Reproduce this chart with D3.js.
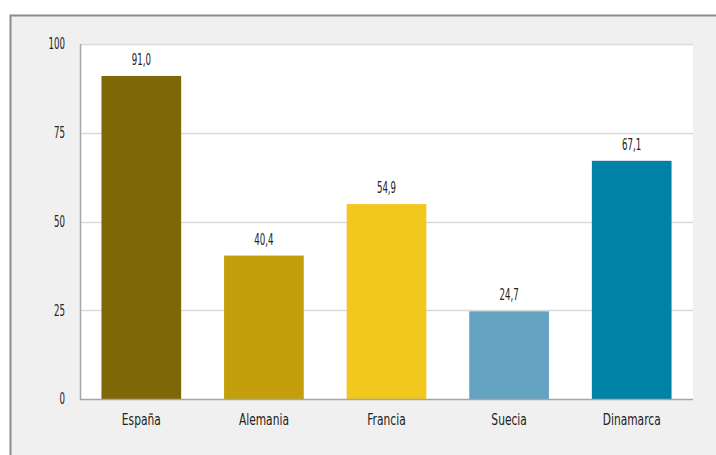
<!DOCTYPE html>
<html><head><meta charset="utf-8">
<script src="https://cdn.jsdelivr.net/npm/d3@7"></script>
<style>
html,body{margin:0;padding:0;background:#fff;}
text{font-family:"DejaVu Sans Condensed","DejaVu Sans",sans-serif;font-stretch:condensed;fill:#222;}
</style></head>
<body><svg id="c" width="716" height="455"></svg>
<script>
const categories = ["España","Alemania","Francia","Suecia","Dinamarca"];
const values = [91.0, 40.4, 54.9, 24.7, 67.1];
const valueLabels = ["91,0","40,4","54,9","24,7","67,1"];
const colors = ["#7f6606","#c29f0b","#f2c71e","#63a2c0","#0082a6"];
const yTicks = [0,25,50,75,100];

(function(){
const svg = d3.select("#c");
svg.append("rect").attr("x",10.5).attr("y",15.5).attr("width",720).attr("height",460)
  .attr("fill","#f0f0f0").attr("stroke","#8c8c8c").attr("stroke-width",2);

const pL=80, pR=693, pT=44, pB=399;
svg.append("rect").attr("x",pL).attr("y",pT).attr("width",pR-pL).attr("height",pB-pT).attr("fill","#fff");

const x = d3.scaleBand().domain(categories).range([pL,pR]).paddingInner(0.35).paddingOuter(0.175);
const y = d3.scaleLinear().domain([0,100]).range([pB,pT]);

svg.append("g").selectAll("line").data(yTicks.filter(d=>d>0)).join("line")
  .attr("x1",pL).attr("x2",pR).attr("y1",d=>Math.round(y(d))+0.5).attr("y2",d=>Math.round(y(d))+0.5)
  .attr("stroke","#d9d9d9").attr("stroke-width",1.5);

svg.append("g").selectAll("rect").data(values).join("rect")
  .attr("x",(d,i)=>x(categories[i])).attr("width",x.bandwidth())
  .attr("y",d=>y(d)).attr("height",d=>pB-y(d))
  .attr("fill",(d,i)=>colors[i]);

const numScale = 0.64, catScale = 0.72;

svg.append("g").selectAll("g").data(values).join("g")
  .attr("transform",(d,i)=>`translate(${x(categories[i])+x.bandwidth()/2},${y(d)-11})`)
  .append("text").attr("transform",`scale(${numScale},1)`)
  .attr("text-anchor","middle").attr("font-size",15).text((d,i)=>valueLabels[i]);

svg.append("line").attr("x1",pL+0.5).attr("x2",pL+0.5).attr("y1",pT).attr("y2",pB+1).attr("stroke","#a6a6a6").attr("stroke-width",1.5);
svg.append("line").attr("x1",pL).attr("x2",pR).attr("y1",pB+0.5).attr("y2",pB+0.5).attr("stroke","#a6a6a6").attr("stroke-width",1.5);

const yAxis = d3.axisLeft(y).tickValues(yTicks).tickSize(0).tickPadding(15);
const gy = svg.append("g").attr("transform",`translate(${pL-15},0)`).call(yAxis);
gy.select(".domain").remove();
gy.selectAll("text").attr("x",0).attr("font-size",15).attr("font-family",null).attr("fill","#222")
  .attr("transform",`scale(${numScale},1)`);

const xAxis = d3.axisBottom(x).tickSize(0).tickPadding(14);
const gx = svg.append("g").attr("transform",`translate(0,${pB})`).call(xAxis);
gx.select(".domain").remove();
gx.selectAll("text").attr("font-size",16.5).attr("font-family",null).attr("fill","#222")
  .attr("transform",`scale(${catScale},1)`);
})();
</script></body></html>
